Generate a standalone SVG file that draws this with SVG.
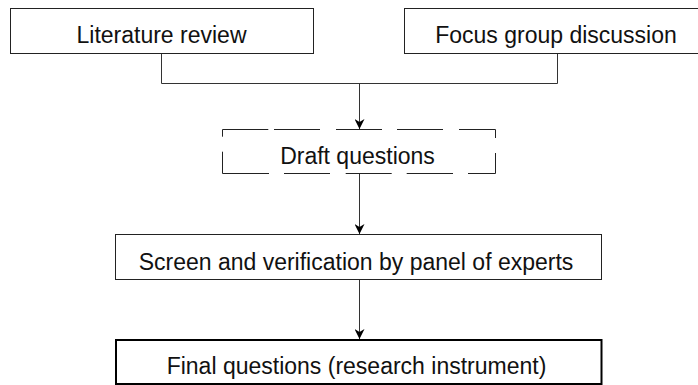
<svg xmlns="http://www.w3.org/2000/svg" width="698" height="385" viewBox="0 0 698 385">
<defs>
<style>
.box{fill:#fff;stroke:#222;stroke-width:1}
.final{fill:#fff;stroke:#000;stroke-width:2}
.dash{fill:none;stroke:#222;stroke-width:1}
.conn{fill:none;stroke:#333;stroke-width:1}
text{font-family:"Liberation Sans",Arial,Helvetica,sans-serif;font-size:23px;fill:#111;text-anchor:middle}
</style>
<marker id="arr" viewBox="0 0 10 10" refX="10" refY="5" markerWidth="10" markerHeight="10" markerUnits="userSpaceOnUse" orient="auto">
<path d="M0,0 L10,5 L0,10 L3,5 z" fill="#000"/>
</marker>
</defs>
<rect width="698" height="385" fill="#fff"/>
<g id="connectors">
<path class="conn" d="M161.5,53 V83.5 H557.5 V53"/>
<path class="conn" d="M359.5,83.5 V129" marker-end="url(#arr)"/>
<path class="conn" d="M359.5,173.5 V234" marker-end="url(#arr)"/>
<path class="conn" d="M359.5,279.5 V339" marker-end="url(#arr)"/>
</g>
<g id="literature-review">
<rect class="box" x="10.5" y="8.5" width="303" height="45"/>
<text x="161.5" y="42.5">Literature review</text>
</g>
<g id="focus-group">
<rect class="box" x="404.5" y="8.5" width="306" height="45"/>
<text x="556" y="42.5">Focus group discussion</text>
</g>
<g id="draft-questions">
<rect x="223" y="129" width="272" height="44" fill="#fff"/>
<path class="dash" d="M222.5,136.7 V129.5 H268.3 M274,129.5 H320 M336,129.5 H382 M397,129.5 H443 M459,129.5 H495.5 V138 M495.5,153 V173.5 H468 M453,173.5 H406.7 M391.7,173.5 H345.7 M330,173.5 H284 M269,173.5 H222.5 V151.7"/>
<text x="357.5" y="163.5">Draft questions</text>
</g>
<g id="screen-verification">
<rect class="box" x="115.5" y="234.5" width="486" height="45"/>
<text x="356" y="269.5">Screen and verification by panel of experts</text>
</g>
<g id="final-questions">
<rect class="final" x="116" y="340" width="485.5" height="44"/>
<text x="356.5" y="374">Final questions (research instrument)</text>
</g>
</svg>
